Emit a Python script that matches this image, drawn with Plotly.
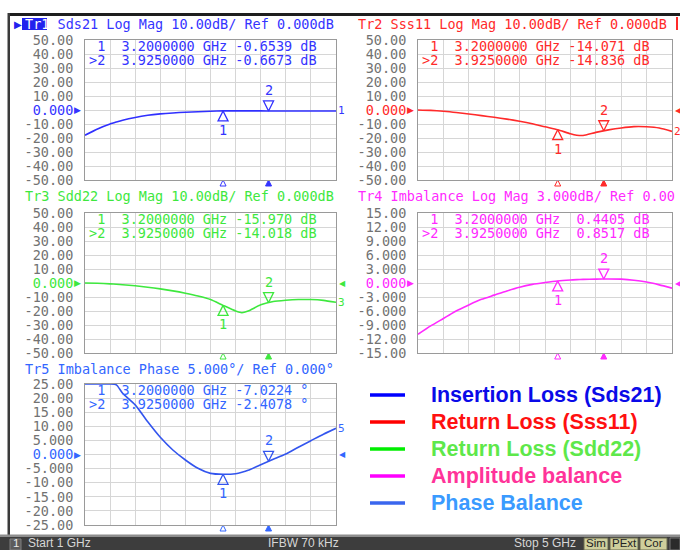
import plotly.graph_objects as go

W, H = 680, 550

# ---------------- data ----------------
freq_ghz = [1.0, 1.2, 1.4, 1.5, 1.6, 1.8, 2.0, 2.2, 2.4, 2.6, 2.8, 3.0,
            3.2, 3.4, 3.5, 3.6, 3.8, 4.0, 4.2, 4.4, 4.6, 4.8, 5.0]
sds21_db = [-18.0, -13.5, -10.0, -8.6, -7.3, -5.3, -3.8, -2.8, -2.1, -1.6, -1.2, -0.9,
            -0.654, -0.62, -0.62, -0.63, -0.65, -0.67, -0.68, -0.69, -0.69, -0.70, -0.70]
sss11_db = [0.0, -0.3, -0.9, -1.3, -1.8, -2.9, -4.0, -5.2, -6.5, -8.0, -9.8, -12.0,
            -14.07, -17.0, -18.0, -18.2, -16.0, -14.2, -12.8, -11.9, -12.0, -12.9, -15.3]
sdd22_db = [0.0, -0.2, -0.6, -0.9, -1.2, -2.0, -3.0, -4.2, -5.6, -7.3, -9.3, -11.8,
            -15.97, -20.0, -21.2, -20.0, -15.6, -13.2, -12.3, -11.8, -11.8, -12.4, -13.8]
imb_mag_db = [-11.0, -9.2, -7.6, -6.8, -6.0, -4.7, -3.5, -2.6, -1.7, -0.9, -0.3, 0.1,
              0.44, 0.65, 0.72, 0.78, 0.84, 0.86, 0.82, 0.6, 0.2, -0.4, -1.1]
imb_phase_deg = [25.0, 25.0, 25.0, 24.7, 21.7, 17.6, 11.6, 6.1, 1.6, -1.95, -4.9, -6.7,
                 -7.02, -6.8, -6.3, -5.6, -3.6, -1.7, 0.2, 2.6, 4.9, 7.2, 9.3]

marker_freq_ghz = [3.2, 3.925]
sds21_marker_db = [-0.6539, -0.6673]
sss11_marker_db = [-14.071, -14.836]
sdd22_marker_db = [-15.970, -14.018]
imb_mag_marker_db = [0.4405, 0.8517]
imb_phase_marker_deg = [-7.0224, -2.4078]

freq_grid_ghz = [1.0, 1.4, 1.8, 2.2, 2.6, 3.0, 3.4, 3.8, 4.2, 4.6, 5.0]

db_tickvals = [50, 40, 30, 20, 10, 0, -10, -20, -30, -40, -50]
db_ticktext = ["50.00", "40.00", "30.00", "20.00", "10.00", "0.000",
               "-10.00", "-20.00", "-30.00", "-40.00", "-50.00"]
imb_tickvals = [15, 12, 9, 6, 3, 0, -3, -6, -9, -12, -15]
imb_ticktext = ["15.00", "12.00", "9.000", "6.000", "3.000", "0.000",
                "-3.000", "-6.000", "-9.000", "-12.00", "-15.00"]
ph_tickvals = [25, 20, 15, 10, 5, 0, -5, -10, -15, -20, -25]
ph_ticktext = ["25.00", "20.00", "15.00", "10.00", "5.000", "0.000",
               "-5.000", "-10.00", "-15.00", "-20.00", "-25.00"]

titles = ["Tr1 Sds21 Log Mag 10.00dB/ Ref 0.000dB",
          "Tr2 Sss11 Log Mag 10.00dB/ Ref 0.000dB",
          "Tr3 Sdd22 Log Mag 10.00dB/ Ref 0.000dB",
          "Tr4 Imbalance Log Mag 3.000dB/ Ref 0.00",
          "Tr5 Imbalance Phase 5.000°/ Ref 0.000°"]

legend_labels = ["Insertion Loss (Sds21)", "Return Loss (Sss11)", "Return Loss (Sdd22)",
                 "Amplitude balance", "Phase Balance"]
legend_text_colors = ["#0a0ae8", "#ff1010", "#5ee84a", "#ff3399", "#3a9aff"]
legend_line_colors = ["#0000ff", "#ff0000", "#00ee00", "#ff00ff", "#3a66ee"]

status_texts = ["Start 1 GHz", "IFBW 70 kHz", "Stop 5 GHz"]
status_flags = ["Sim", "PExt", "Cor"]

# ---------------- styling / layout ----------------
MONO = "DejaVu Sans Mono"
panels = [
    dict(y=sds21_db, m=sds21_marker_db, color="#3030ff", tcolor="#3434ff", unit="dB",
         box=(85, 336, 40, 180), rng=(-50, 50), tv=db_tickvals, tt=db_ticktext, num="1",
         right_arrow=False),
    dict(y=sss11_db, m=sss11_marker_db, color="#ff2a2a", tcolor="#ff2a2a", unit="dB",
         box=(418, 672, 40, 180), rng=(-50, 50), tv=db_tickvals, tt=db_ticktext, num="2",
         right_arrow=True),
    dict(y=sdd22_db, m=sdd22_marker_db, color="#3ee83e", tcolor="#3ee83e", unit="dB",
         box=(85, 336, 213, 353), rng=(-50, 50), tv=db_tickvals, tt=db_ticktext, num="3",
         right_arrow=True),
    dict(y=imb_mag_db, m=imb_mag_marker_db, color="#ff2aff", tcolor="#ff2aff", unit="dB",
         box=(418, 672, 213, 353), rng=(-15, 15), tv=imb_tickvals, tt=imb_ticktext, num=None,
         right_arrow=True),
    dict(y=imb_phase_deg, m=imb_phase_marker_deg, color="#3355ee", tcolor="#3366ff", unit="°",
         box=(85, 336, 384, 525), rng=(-25, 25), tv=ph_tickvals, tt=ph_ticktext, num="5",
         right_arrow=True),
]
title_pos = [(23, 24), (356, 24), (23, 196), (356, 196), (23, 369)]


def px(x):
    return x / W


def py(y):
    return 1 - y / H


def fmt_val(v):
    return f"{v:.4f}" if abs(v) < 10 else f"{v:.3f}"


NB = "\u00a0"
fig = go.Figure()
annotations = []
shapes = []

for i, p in enumerate(panels, start=1):
    xa = "x" if i == 1 else f"x{i}"
    ya = "y" if i == 1 else f"y{i}"
    xkey = "xaxis" if i == 1 else f"xaxis{i}"
    ykey = "yaxis" if i == 1 else f"yaxis{i}"
    l, r, t, b = p["box"]
    c = p["color"]

    fig.add_trace(go.Scatter(x=freq_ghz, y=p["y"], mode="lines", xaxis=xa, yaxis=ya,
                             line=dict(color=c, width=1.6, shape="spline", smoothing=0.6),
                             showlegend=False, hoverinfo="skip"))
    fig.add_trace(go.Scatter(x=[marker_freq_ghz[0]], y=[p["m"][0]], mode="markers",
                             xaxis=xa, yaxis=ya, showlegend=False, hoverinfo="skip",
                             marker=dict(symbol="arrow-up-open", size=10, color=c,
                                         line=dict(color=c, width=1.3))))
    fig.add_trace(go.Scatter(x=[marker_freq_ghz[1]], y=[p["m"][1]], mode="markers",
                             xaxis=xa, yaxis=ya, showlegend=False, hoverinfo="skip",
                             marker=dict(symbol="arrow-down-open", size=10, color=c,
                                         line=dict(color=c, width=1.3))))
    # marker position indicators just below the frequency axis
    fig.add_trace(go.Scatter(x=marker_freq_ghz, y=[p["rng"][0]] * len(marker_freq_ghz),
                             mode="markers", xaxis=xa, yaxis=ya, showlegend=False,
                             hoverinfo="skip", cliponaxis=False,
                             marker=dict(symbol=["arrow-up-open", "arrow-up"], size=6,
                                         color=p["tcolor"],
                                         line=dict(color=p["tcolor"], width=1))))

    ticktext = [f"<span style='color:{p['tcolor']}'>{s}</span>" if v == 0 else s
                for v, s in zip(p["tv"], p["tt"])]
    fig.update_layout(**{
        xkey: dict(domain=[px(l), px(r)], anchor=ya, range=[1, 5], tickvals=freq_grid_ghz,
                   showticklabels=False, showgrid=True, gridcolor="#d6d6d6", gridwidth=1,
                   showline=True, mirror=True, linecolor="#9a9a9a", linewidth=1,
                   zeroline=False, ticks="", automargin=False),
        ykey: dict(domain=[py(b), py(t)], anchor=xa, range=list(p["rng"]),
                   tickvals=p["tv"], ticktext=ticktext, showgrid=True, gridcolor="#d6d6d6",
                   showline=True, mirror=True, linecolor="#9a9a9a", linewidth=1,
                   zeroline=False, ticks="", ticklabelstandoff=8, automargin=False,
                   tickfont=dict(family=MONO, size=13.5, color="#727272")),
    })

    # title
    tx, ty = title_pos[i - 1]
    ttl = titles[i - 1]
    if i == 1:
        ttl = "<span style='color:white'>Tr1</span>" + ttl[3:]
    annotations.append(dict(text=ttl, x=px(tx), y=py(ty), xref="paper", yref="paper",
                            xanchor="left", yanchor="middle", showarrow=False,
                            font=dict(family=MONO, size=13.5, color=p["tcolor"])))

    # marker readout
    rows = []
    for k, (f, v) in enumerate(zip(marker_freq_ghz, p["m"])):
        tag = NB + "1" if k == 0 else ">2"
        val = fmt_val(v).rjust(7).replace(" ", NB)
        rows.append(f"{tag}{NB}{NB}{f:.7f}{NB}GHz{NB}{val}{NB}{p['unit']}")
    for k, row in enumerate(rows):
        annotations.append(dict(text=row, x=px(l + 2), y=py(t + 6 + 14 * k), xref="paper",
                                yref="paper", xanchor="left", yanchor="middle",
                                showarrow=False,
                                font=dict(family=MONO, size=13.5, color=p["tcolor"])))

    # marker numbers on the trace
    annotations.append(dict(text="1", x=marker_freq_ghz[0], y=p["m"][0], xref=xa, yref=ya,
                            xanchor="center", yanchor="middle", yshift=-19, showarrow=False,
                            font=dict(family=MONO, size=13.5, color=p["tcolor"])))
    annotations.append(dict(text="2", x=marker_freq_ghz[1], y=p["m"][1], xref=xa, yref=ya,
                            xanchor="center", yanchor="middle", yshift=21, showarrow=False,
                            font=dict(family=MONO, size=13.5, color=p["tcolor"])))

    # reference level arrows
    annotations.append(dict(text="▶", x=px(l - 2), y=0, xref="paper", yref=ya,
                            xanchor="right", yanchor="middle", showarrow=False,
                            font=dict(family="DejaVu Sans", size=9, color=p["tcolor"])))
    if p["right_arrow"]:
        annotations.append(dict(text="◀", x=px(r + 0.5), y=0, xref="paper", yref=ya,
                                xanchor="left", yanchor="middle", showarrow=False,
                                font=dict(family="DejaVu Sans", size=8, color=p["tcolor"])))
    if p["num"]:
        annotations.append(dict(text=p["num"], x=px(r), y=p["y"][-1], xref="paper",
                                yref=ya, xanchor="left", yanchor="middle", showarrow=False,
                                font=dict(family=MONO, size=11, color=p["tcolor"])))

# Tr1 active-trace highlight and pointer
shapes.append(dict(type="rect", xref="paper", yref="paper", x0=px(22), x1=px(47),
                   y0=py(30), y1=py(18), fillcolor="#2222ee", line=dict(width=0)))
annotations.append(dict(text="▶", x=px(12), y=py(24), xref="paper", yref="paper",
                        xanchor="left", yanchor="middle", showarrow=False,
                        font=dict(family="DejaVu Sans", size=10, color="#2222ee")))

# window frame
shapes.append(dict(type="rect", xref="paper", yref="paper", x0=px(8), x1=px(680),
                   y0=py(16), y1=py(13), fillcolor="#1e1e1e", line=dict(width=0)))
shapes.append(dict(type="rect", xref="paper", yref="paper", x0=px(7.5), x1=px(10),
                   y0=py(537), y1=py(13), fillcolor="#3a3a3a", line=dict(width=0)))
shapes.append(dict(type="rect", xref="paper", yref="paper", x0=px(676), x1=px(678),
                   y0=py(30), y1=py(17), fillcolor="#ff2a2a", line=dict(width=0)))

# status bar
shapes.append(dict(type="rect", xref="paper", yref="paper", x0=0, x1=1,
                   y0=py(537), y1=py(534.5), fillcolor="#8e8e8e", line=dict(width=0)))
shapes.append(dict(type="rect", xref="paper", yref="paper", x0=0, x1=1,
                   y0=0, y1=py(537), fillcolor="#3d3d3d", line=dict(width=0)))
shapes.append(dict(type="rect", xref="paper", yref="paper", x0=px(10), x1=px(21),
                   y0=0, y1=py(539), fillcolor="#5c5c5c", line=dict(color="#808080", width=1)))
STATUS_Y = 543
annotations.append(dict(text="1", x=px(15.5), y=py(STATUS_Y), xref="paper", yref="paper",
                        xanchor="center", yanchor="middle", showarrow=False, borderpad=0,
                        font=dict(family="Liberation Sans", size=11.5, color="#e8e8e8")))
status_pos = [(27, "left"), (267, "left"), (577, "right")]
for s, (x, anc) in zip(status_texts, status_pos):
    annotations.append(dict(text=s, x=px(x), y=py(STATUS_Y), xref="paper", yref="paper",
                            xanchor=anc, yanchor="middle", showarrow=False, borderpad=0,
                            font=dict(family="Liberation Sans", size=12, color="#d6d6d6")))
flag_pos = [(584, 608), (610, 638), (640, 667)]
for s, (x0, x1) in zip(status_flags, flag_pos):
    shapes.append(dict(type="rect", xref="paper", yref="paper", x0=px(x0), x1=px(x1),
                       y0=0, y1=py(538), fillcolor="#cfcf9c", line=dict(color="#6a6a50", width=1)))
    annotations.append(dict(text=s, x=px((x0 + x1) / 2), y=py(STATUS_Y), xref="paper",
                            yref="paper", xanchor="center", yanchor="middle", showarrow=False,
                            borderpad=0,
                            font=dict(family="Liberation Sans", size=11.5, color="#222222")))
shapes.append(dict(type="rect", xref="paper", yref="paper", x0=px(670), x1=px(680),
                   y0=0, y1=py(538), fillcolor="#2b2b2b", line=dict(color="#777777", width=1)))

# legend block
legend_rows_px = [395, 422, 449, 476, 503]
for lab, tc, lc, yy in zip(legend_labels, legend_text_colors, legend_line_colors, legend_rows_px):
    shapes.append(dict(type="line", xref="paper", yref="paper", x0=px(370), x1=px(405),
                       y0=py(yy), y1=py(yy), line=dict(color=lc, width=3.5)))
    annotations.append(dict(text=f"<b>{lab}</b>", x=px(429), y=py(yy), xref="paper",
                            yref="paper", xanchor="left", yanchor="middle", showarrow=False,
                            font=dict(family="Liberation Sans", size=21.5, color=tc)))

fig.update_layout(width=W, height=H,
                  margin=dict(l=0, r=0, t=0, b=0, pad=0, autoexpand=False),
                  paper_bgcolor="white", plot_bgcolor="white", showlegend=False,
                  annotations=annotations, shapes=shapes)

fig.write_html("out.html", config={"displayModeBar": False, "staticPlot": True},
               post_script="document.body.style.margin='0px';"
                           "document.documentElement.style.overflow='hidden';")
